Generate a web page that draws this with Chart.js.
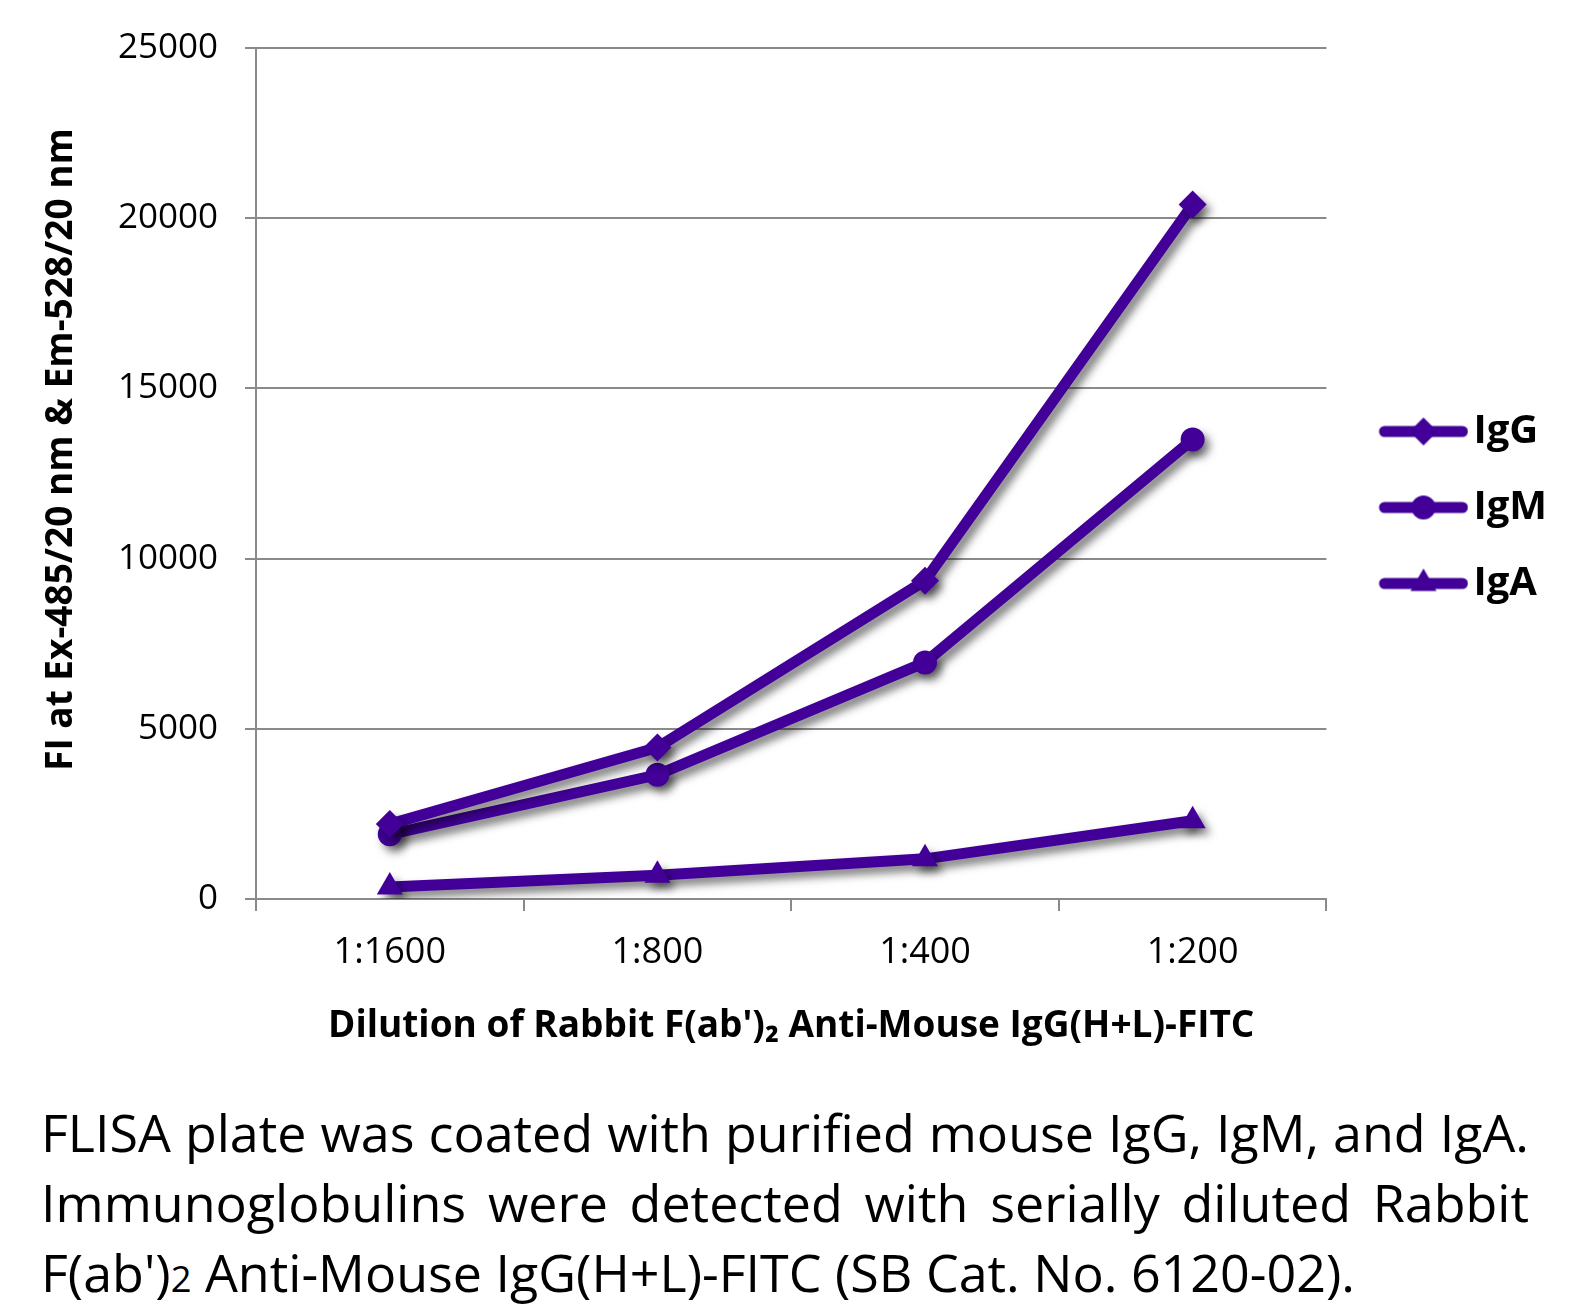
<!DOCTYPE html>
<html>
<head>
<meta charset="utf-8">
<script src="https://cdn.jsdelivr.net/npm/chart.js@4.4.0/dist/chart.umd.min.js"></script>
<style>
  body { margin: 0; background: #fff; width: 1590px; height: 1308px; position: relative; overflow: hidden; }
  #chart { position: absolute; left: 0; top: 0; }
  #caption { position: absolute; left: 41px; top: 1097px; width: 1488px; font-family: 'Open Sans', sans-serif; font-size: 52px; line-height: 70px; color: #000; }
  #caption div { white-space: nowrap; }
  .just { text-align: justify; text-align-last: justify; }
  .sm { font-size: 70%; }
</style>
</head>
<body>
<canvas id="chart" width="1590" height="1060"></canvas>
<div id="caption">
  <div class="just">FLISA plate was coated with purified mouse IgG, IgM, and IgA.</div>
  <div class="just">Immunoglobulins were detected with serially diluted Rabbit</div>
  <div>F(ab')<span class="sm">2</span> Anti-Mouse IgG(H+L)-FITC (SB Cat. No. 6120-02).</div>
</div>
<script>
const dilutions = ['1:1600', '1:800', '1:400', '1:200'];
const igG = [2200, 4450, 9350, 20400];
const igM = [1900, 3650, 6950, 13500];
const igA = [350, 700, 1180, 2300];

const purple = '#420099';
const grey = '#8a8a8a';
const font = "'Open Sans', sans-serif";

// little line-with-marker picture for each legend entry
function legendSwatch(style, radius) {
    const c = document.createElement('canvas');
    c.width = 121;
    c.height = 40;
    const ctx = c.getContext('2d');
    ctx.strokeStyle = purple;
    ctx.fillStyle = purple;
    ctx.lineWidth = 11;
    ctx.lineCap = 'round';
    ctx.beginPath();
    ctx.moveTo(37, 20);
    ctx.lineTo(115, 20);
    ctx.stroke();
    Chart.helpers.drawPoint(ctx, {pointStyle: style, radius: radius, rotation: 0, borderWidth: 0}, 76, 20);
    return c;
}

const shadow = {
    id: 'shadow',
    beforeDatasetsDraw(chart) {
        const ctx = chart.ctx;
        ctx.save();
        ctx.shadowColor = 'rgba(0,0,0,0.5)';
        ctx.shadowBlur = 9;
        ctx.shadowOffsetX = 5;
        ctx.shadowOffsetY = 6;
    },
    afterDatasetsDraw(chart) {
        chart.ctx.restore();
    }
};

function series(label, values, style, radius) {
    return {
        label: label,
        data: values,
        borderColor: purple,
        backgroundColor: purple,
        borderWidth: 11,
        tension: 0,
        pointStyle: style,
        pointRadius: radius,
        pointHoverRadius: radius,
        pointBorderWidth: 0,
        pointBackgroundColor: purple,
        swatch: legendSwatch(style, radius)
    };
}

new Chart(document.getElementById('chart'), {
    type: 'line',
    data: {
        labels: dilutions,
        datasets: [
            series('IgG', igG, 'rectRot', 14),
            series('IgM', igM, 'circle', 12),
            series('IgA', igA, 'triangle', 15)
        ]
    },
    plugins: [shadow],
    options: {
        responsive: false,
        animation: false,
        layout: {padding: {top: 45, right: 33, bottom: 10, left: 0}},
        plugins: {
            tooltip: {enabled: false},
            legend: {
                position: 'right',
                fullSize: false,
                title: {display: true, text: ' ', font: {size: 10}, padding: {top: 56, bottom: 0}},
                labels: {
                    usePointStyle: true,
                    pointStyleWidth: 91,
                    padding: 36,
                    color: '#000',
                    font: {family: font, size: 40, weight: 'bold'},
                    generateLabels(chart) {
                        const items = Chart.defaults.plugins.legend.labels.generateLabels(chart);
                        items.forEach(it => { it.pointStyle = chart.data.datasets[it.datasetIndex].swatch; });
                        return items;
                    }
                }
            }
        },
        scales: {
            x: {
                type: 'category',
                offset: true,
                afterFit(scale) { scale.height = 151; },
                grid: {offset: true, drawOnChartArea: false, color: grey, lineWidth: 2, tickLength: 12},
                border: {color: grey, width: 2},
                ticks: {color: '#000', padding: 20, font: {family: font, size: 36}},
                title: {
                    display: true,
                    text: "Dilution of Rabbit F(ab')₂ Anti-Mouse IgG(H+L)-FITC",
                    color: '#000',
                    font: {family: font, size: 37, weight: 'bold'},
                    padding: {top: 0, bottom: 1}
                }
            },
            y: {
                min: 0,
                max: 25000,
                afterFit(scale) { scale.width = 256; },
                grid: {color: grey, lineWidth: 2, tickLength: 11},
                border: {color: grey, width: 2},
                ticks: {stepSize: 5000, color: '#000', padding: 27, font: {family: font, size: 35}, callback: v => String(v)},
                title: {
                    display: true,
                    text: '     FI at Ex-485/20 nm & Em-528/20 nm',
                    color: '#000',
                    font: {family: font, size: 37, weight: 'bold'},
                    padding: {top: 39, bottom: 0}
                }
            }
        }
    }
});
</script>
</body>
</html>
